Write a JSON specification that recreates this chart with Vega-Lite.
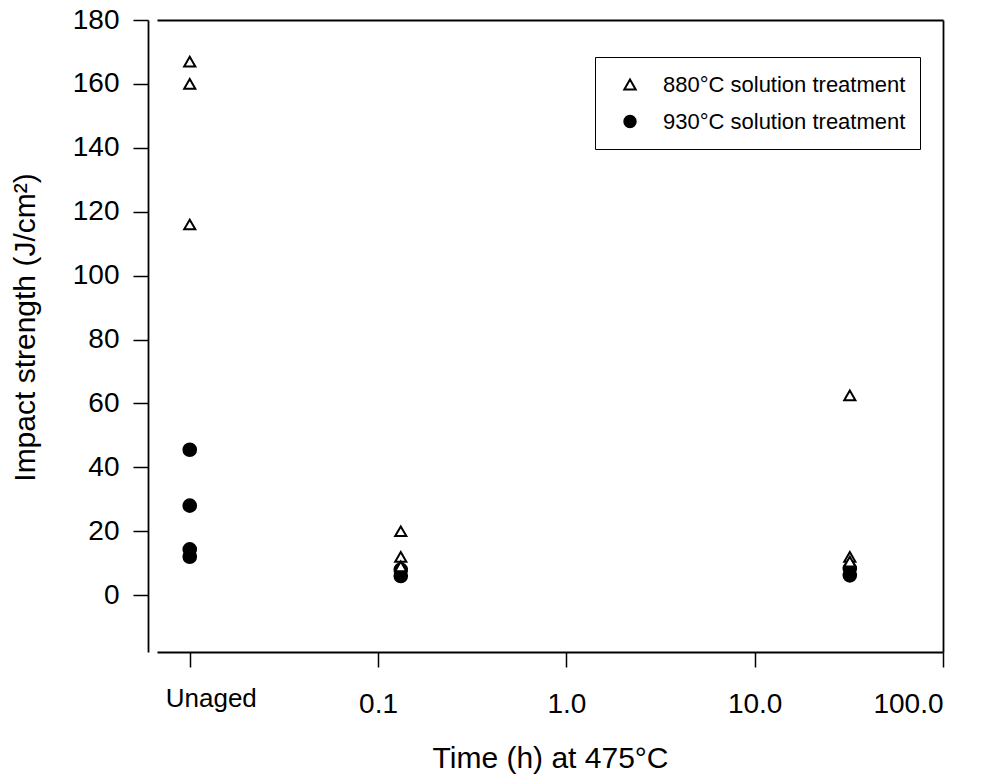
{
  "$schema": "https://vega.github.io/schema/vega-lite/v6.json",
  "autosize": {"type": "none"},
  "width": 786,
  "height": 632,
  "padding": {"left": 157, "top": 20, "right": 41, "bottom": 125},
  "background": "white",
  "config": {
    "view": {"stroke": null},
    "font": "Liberation Sans",
    "axis": {"labelFont": "Liberation Sans", "titleFont": "Liberation Sans", "labelColor": "black", "titleColor": "black", "domainColor": "black", "tickColor": "black", "grid": false}
  },
  "data": {
    "values": [
      {"time": 0.01, "impact": 45.5, "treatment": "930°C solution treatment"},
      {"time": 0.01, "impact": 28, "treatment": "930°C solution treatment"},
      {"time": 0.01, "impact": 14.3, "treatment": "930°C solution treatment"},
      {"time": 0.01, "impact": 12, "treatment": "930°C solution treatment"},
      {"time": 0.132, "impact": 8, "treatment": "930°C solution treatment"},
      {"time": 0.132, "impact": 6, "treatment": "930°C solution treatment"},
      {"time": 32, "impact": 8.3, "treatment": "930°C solution treatment"},
      {"time": 32, "impact": 6.2, "treatment": "930°C solution treatment"},
      {"time": 0.01, "impact": 167, "treatment": "880°C solution treatment"},
      {"time": 0.01, "impact": 160, "treatment": "880°C solution treatment"},
      {"time": 0.01, "impact": 116, "treatment": "880°C solution treatment"},
      {"time": 0.132, "impact": 20, "treatment": "880°C solution treatment"},
      {"time": 0.132, "impact": 12, "treatment": "880°C solution treatment"},
      {"time": 0.132, "impact": 9, "treatment": "880°C solution treatment"},
      {"time": 32, "impact": 62.5, "treatment": "880°C solution treatment"},
      {"time": 32, "impact": 12, "treatment": "880°C solution treatment"},
      {"time": 32, "impact": 10.5, "treatment": "880°C solution treatment"}
    ]
  },
  "layer": [
    {
      "transform": [{"filter": "datum.treatment == '930°C solution treatment'"}],
      "mark": {"type": "point", "strokeWidth": 2, "opacity": 1, "size": 160},
      "encoding": {
        "x": {
          "field": "time", "type": "quantitative",
          "scale": {"type": "log", "domain": [0.0067, 100], "nice": false},
          "axis": {
            "orient": "bottom",
            "values": [0.01, 0.1, 1, 10, 100],
            "labelExpr": "datum.value < 0.05 ? 'Unaged' : (datum.value < 0.5 ? '0.1' : format(datum.value, '.1f'))",
            "tickSize": 15, "tickWidth": 1.5, "domainWidth": 1.8,
            "labelFontSize": {"condition": {"test": "datum.value < 0.05", "value": 26}, "value": 28},
            "labelOffset": {"condition": {"test": "datum.value < 0.05", "value": 21}, "value": 0},
            "labelPadding": {"condition": {"test": "datum.value < 0.05", "value": 18}, "value": 23},
            "title": "Time (h) at 475°C", "titleFontSize": 30, "titleFontWeight": "normal", "titlePadding": 25
          }
        },
        "y": {
          "field": "impact", "type": "quantitative",
          "scale": {"domain": [-17.8, 180], "nice": false, "zero": false},
          "axis": {
            "orient": "left", "offset": 9,
            "values": [0, 20, 40, 60, 80, 100, 120, 140, 160, 180],
            "tickSize": 15, "tickWidth": 1.5, "domainWidth": 1.8,
            "labelFontSize": 28, "labelPadding": 14,
            "title": "Impact strength (J/cm²)", "titleFontSize": 30, "titleFontWeight": "normal", "titlePadding": 32, "titleY": 307
          }
        },
        "shape": {
          "field": "treatment", "type": "nominal",
          "scale": {"domain": ["880°C solution treatment", "930°C solution treatment"], "range": ["triangle-up", "circle"]},
          "legend": {"orient": "none", "legendX": 438, "legendY": 37, "title": null, "strokeColor": "black", "fillColor": "white", "padding": 14, "clipHeight": 27, "labelFontSize": 22, "labelFont": "Liberation Sans", "labelColor": "black", "labelLimit": 0, "rowPadding": 10, "labelOffset": 22, "symbolOffset": 10, "symbolStrokeWidth": 2, "symbolSize": 130}
        },
        "fill": {
          "field": "treatment", "type": "nominal",
          "scale": {"domain": ["880°C solution treatment", "930°C solution treatment"], "range": ["white", "black"]},
          "legend": {"orient": "none", "legendX": 438, "legendY": 37, "title": null, "strokeColor": "black", "fillColor": "white", "padding": 14, "clipHeight": 27, "labelFontSize": 22, "labelFont": "Liberation Sans", "labelColor": "black", "labelLimit": 0, "rowPadding": 10, "labelOffset": 22, "symbolOffset": 10, "symbolStrokeWidth": 2, "symbolSize": 130}
        },
        "stroke": {
          "field": "treatment", "type": "nominal",
          "scale": {"domain": ["880°C solution treatment", "930°C solution treatment"], "range": ["black", "black"]},
          "legend": {"orient": "none", "legendX": 438, "legendY": 37, "title": null, "strokeColor": "black", "fillColor": "white", "padding": 14, "clipHeight": 27, "labelFontSize": 22, "labelFont": "Liberation Sans", "labelColor": "black", "labelLimit": 0, "rowPadding": 10, "labelOffset": 22, "symbolOffset": 10, "symbolStrokeWidth": 2, "symbolSize": 130}
        }
      }
    },
    {
      "transform": [{"filter": "datum.treatment == '880°C solution treatment'"}],
      "mark": {"type": "point", "strokeWidth": 2, "opacity": 1, "size": 125},
      "encoding": {
        "x": {"field": "time", "type": "quantitative", "axis": null},
        "y": {"field": "impact", "type": "quantitative", "axis": null},
        "shape": {"field": "treatment", "type": "nominal"},
        "fill": {"field": "treatment", "type": "nominal"},
        "stroke": {"field": "treatment", "type": "nominal"}
      }
    },
    {
      "mark": {"type": "point", "opacity": 0},
      "encoding": {
        "x": {"field": "time", "type": "quantitative", "axis": {"orient": "top", "ticks": false, "labels": false, "title": null, "domainWidth": 1.8}},
        "y": {"field": "impact", "type": "quantitative", "axis": {"orient": "right", "ticks": false, "labels": false, "title": null, "domainWidth": 1.8}}
      }
    }
  ],
  "resolve": {"axis": {"x": "independent", "y": "independent"}}
}
